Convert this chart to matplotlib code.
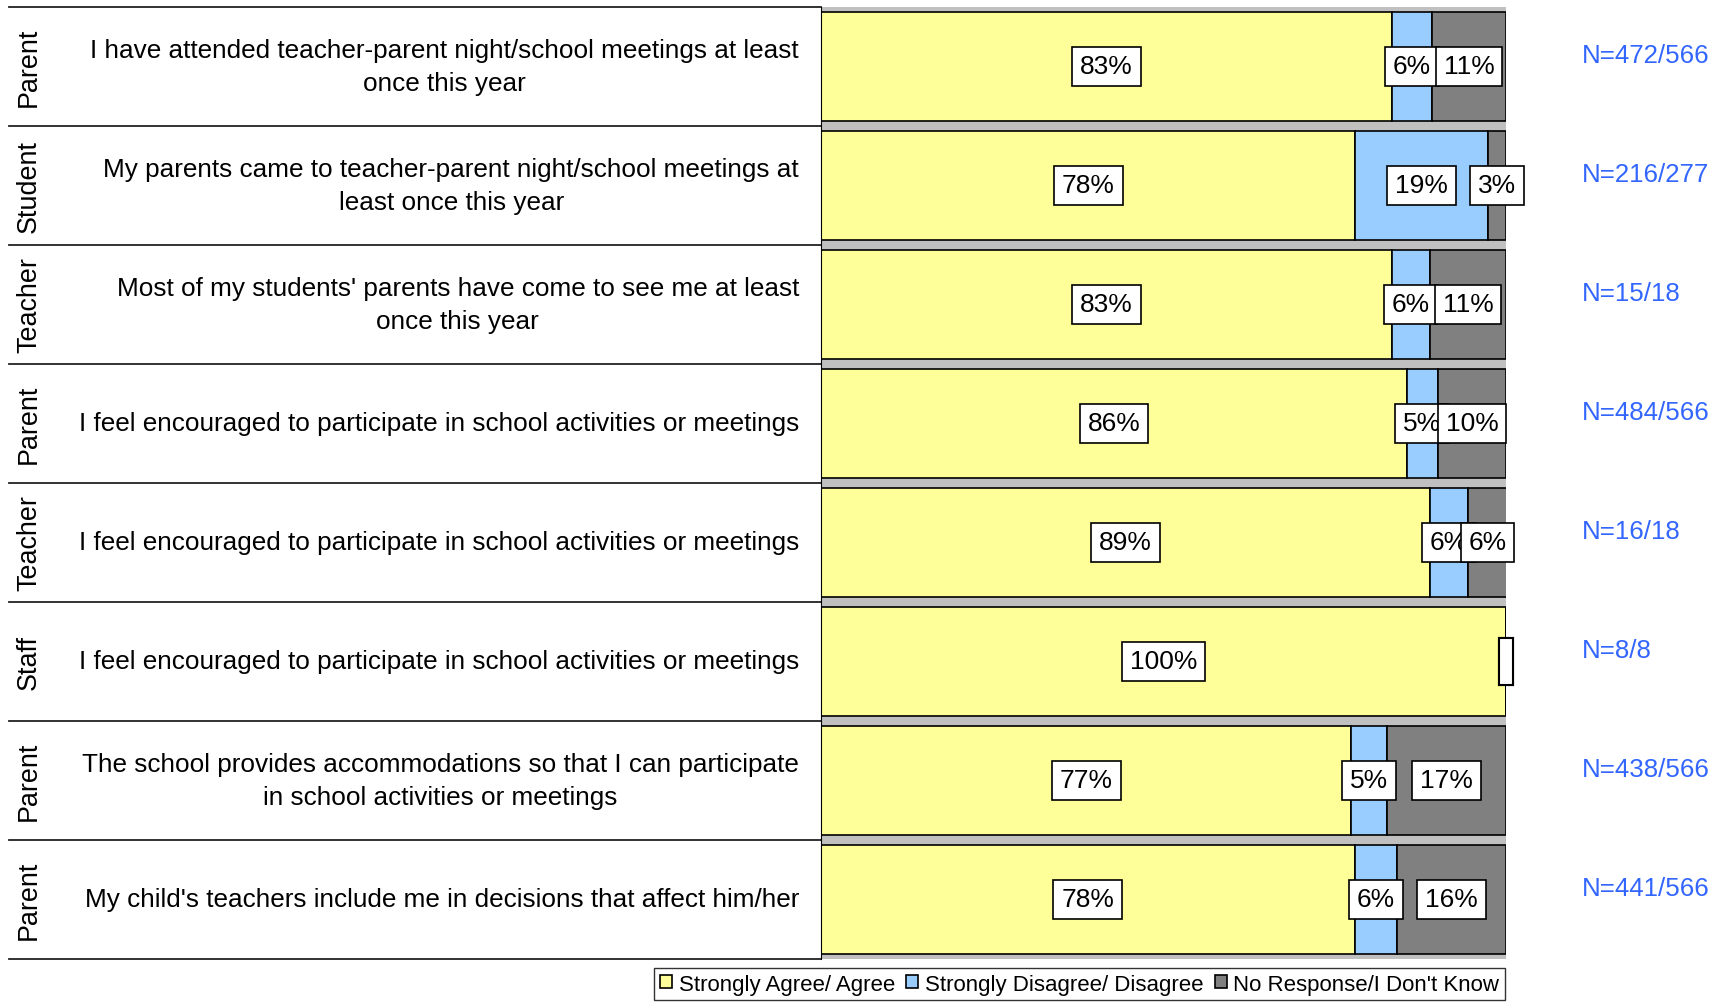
import matplotlib.pyplot as plt
from matplotlib.patches import Rectangle
from matplotlib.transforms import blended_transform_factory

plt.rcParams['font.family'] = ['Liberation Sans', 'DejaVu Sans']

groups = ['Parent', 'Student', 'Teacher', 'Parent', 'Teacher', 'Staff', 'Parent', 'Parent']
questions = [
    'I have attended teacher-parent night/school meetings at least\nonce this year',
    'My parents came to teacher-parent night/school meetings at\nleast once this year',
    "Most of my students' parents have come to see me at least\nonce this year",
    'I feel encouraged to participate in school activities or meetings',
    'I feel encouraged to participate in school activities or meetings',
    'I feel encouraged to participate in school activities or meetings',
    'The school provides accommodations so that I can participate\nin school activities or meetings',
    "My child's teachers include me in decisions that affect him/her",
]
agree = [83.4, 78.0, 83.3, 85.5, 88.9, 100.0, 77.4, 77.9]
disagree = [5.8, 19.4, 5.6, 4.6, 5.6, 0.0, 5.3, 6.2]
no_resp = [10.8, 2.6, 11.1, 9.9, 5.6, 0.0, 17.3, 15.9]
n_labels = ['N=472/566', 'N=216/277', 'N=15/18', 'N=484/566', 'N=16/18', 'N=8/8',
            'N=438/566', 'N=441/566']

series = [('Strongly Agree/ Agree', agree, '#FFFF99'),
          ('Strongly Disagree/ Disagree', disagree, '#99CCFF'),
          ('No Response/I Don\'t Know', no_resp, '#808080')]

W, H = 1723, 1003
fig = plt.figure(figsize=(W / 100, H / 100), dpi=100)
left, right, top, bottom = 821, 1506, 8, 960
ax = fig.add_axes([left / W, 1 - bottom / H, (right - left) / W, (bottom - top) / H])
ax.set_facecolor('#C0C0C0')

rows = list(range(len(groups)))
bh = 0.91
starts = [0.0] * len(rows)
for name, vals, col in series:
    ax.barh(rows, vals, left=starts, height=bh, color=col, edgecolor='black',
            linewidth=1.2, label=name)
    for r in rows:
        v = vals[r]
        cx = starts[r] + v / 2
        if v > 0:
            ax.text(cx, r, f'{v:.0f}%', ha='center', va='center', fontsize=19,
                    zorder=5, bbox=dict(boxstyle='square,pad=0.3', fc='white',
                                        ec='black', lw=1.2))
        else:
            ax.add_patch(Rectangle((cx - 0.95, r - 0.2), 1.9, 0.4, fc='white',
                                   ec='black', lw=1.5, zorder=5, clip_on=False))
    starts = [s + v for s, v in zip(starts, vals)]

ax.set_xlim(0, 100)
ax.set_ylim(len(rows) - 0.5, -0.5)
ax.set_xticks([])
ax.set_yticks([])
for sp in ['top', 'right', 'bottom']:
    ax.spines[sp].set_visible(False)
ax.spines['left'].set_color('black')

tr = blended_transform_factory(fig.transFigure, ax.transData)
for i in range(len(rows) + 1):
    ax.plot([9 / W, left / W], [i - 0.5, i - 0.5], transform=tr, color='#222222',
            lw=1.3, clip_on=False)

for r in rows:
    ax.text(29 / W, r, groups[r], transform=tr, rotation=90, ha='center',
            va='center', fontsize=19.4)
    ax.text(799 / W, r, questions[r], transform=tr, ha='right', va='center',
            multialignment='center', fontsize=18.8, linespacing=1.45)
    ax.text(1582 / W, r - 0.1, n_labels[r], transform=tr, ha='left',
            va='center', fontsize=18.6, color='#3366FF')

leg = fig.legend(loc='upper right', bbox_to_anchor=(1505 / W, 1 - 969 / H), ncol=3,
                 fontsize=16, frameon=True, fancybox=False, handlelength=0.55,
                 handleheight=0.55, handletextpad=0.3, columnspacing=0.5,
                 borderpad=0.25, borderaxespad=0)
leg.get_frame().set_edgecolor('black')
leg.get_frame().set_linewidth(1.0)

fig.savefig('out.png', dpi=100)
